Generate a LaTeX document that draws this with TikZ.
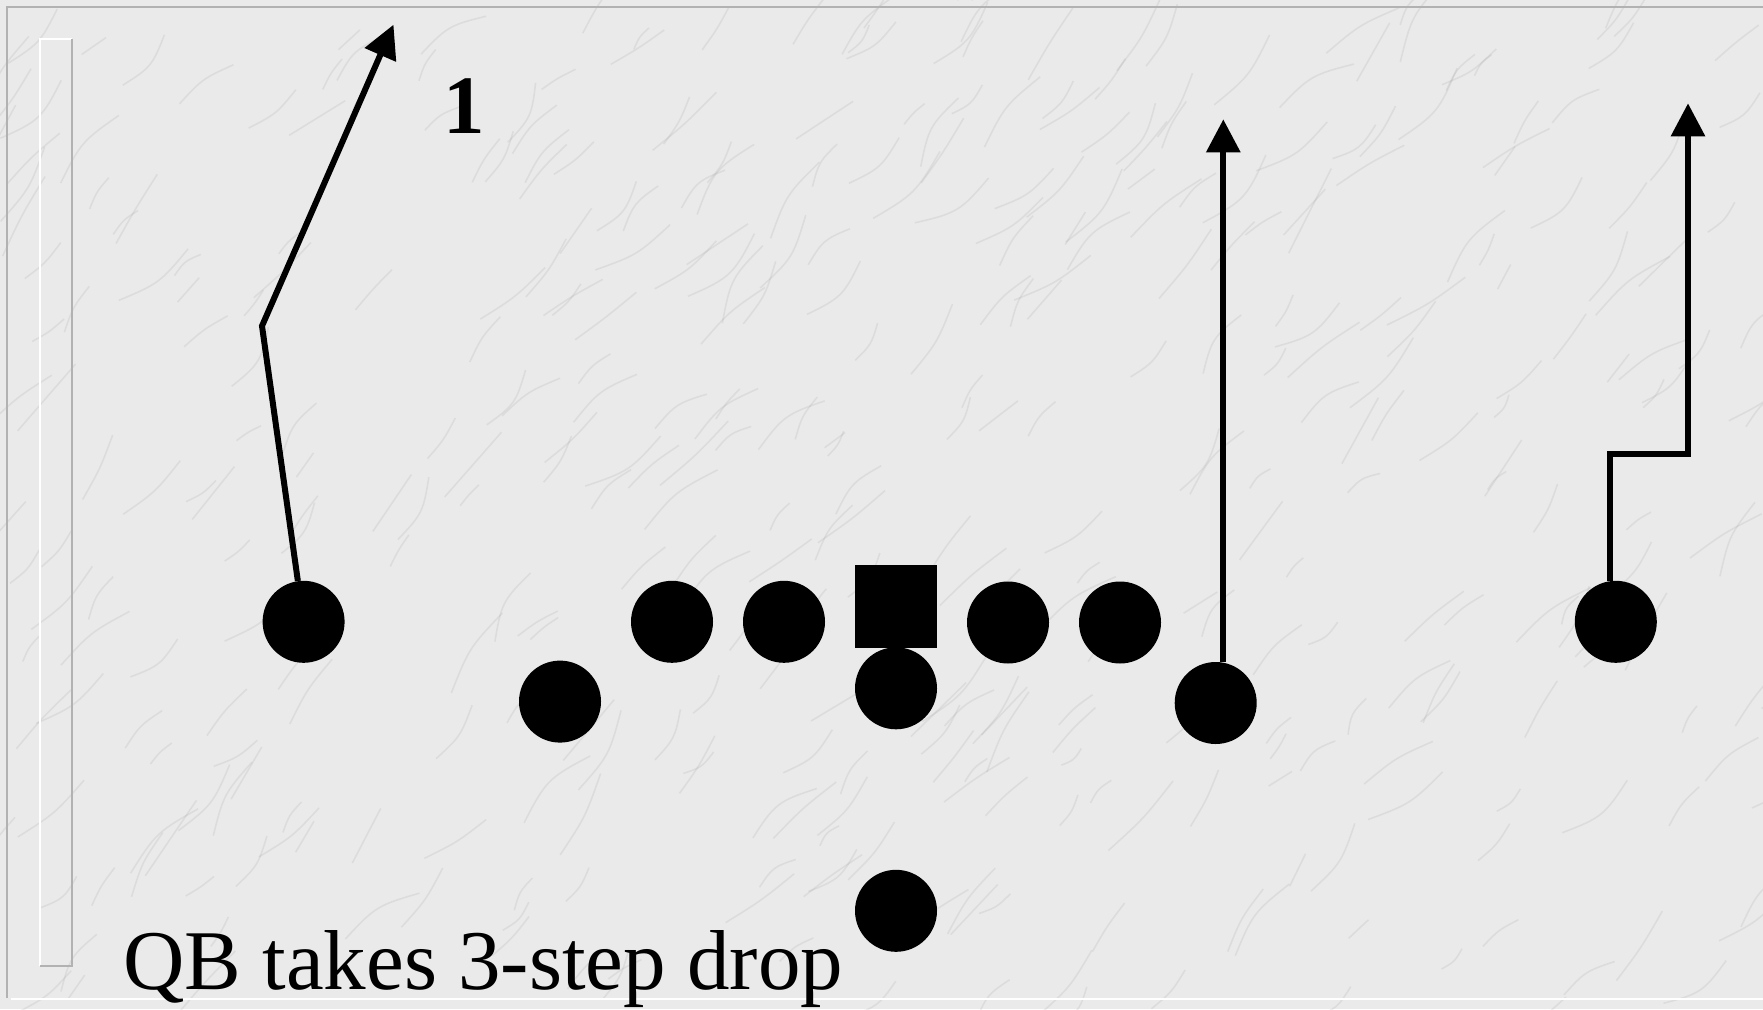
\documentclass[tikz,border=0pt]{standalone}
\usepackage{fontspec}
\setmainfont{Liberation Serif}
\usetikzlibrary{arrows.meta}
\definecolor{marble}{RGB}{234,234,234}
\definecolor{vein}{RGB}{140,140,140}
\definecolor{framegray}{RGB}{178,178,178}
\tikzset{
  player/.style={circle, fill=black, draw=none, minimum size=82pt, inner sep=0pt},
  centersq/.style={rectangle, fill=black, draw=none, minimum width=82pt, minimum height=83pt, inner sep=0pt},
  route/.style={line width=6pt, draw=black, line join=miter},
  routearrow/.style={route, -{Triangle[length=33pt,width=33pt]}},
}
\begin{document}
\begin{tikzpicture}[x=1pt,y=-1pt]
\useasboundingbox (0,0) rectangle (1763,1009);
% marble background
\fill[marble] (0,0) rectangle (1763,1009);
\pgfmathsetseed{7}
\begin{scope}
\clip (0,0) rectangle (1763,1009);
\foreach \i in {1,...,420}{
  \pgfmathsetmacro{\px}{rnd*1800-20}
  \pgfmathsetmacro{\py}{rnd*1050-20}
  \pgfmathsetmacro{\ang}{-(30+rnd*35)}
  \pgfmathsetmacro{\len}{25+rnd*70}
  \pgfmathsetmacro{\bend}{rnd*40-20}
  \draw[vein, opacity=0.14, line width=1.6pt]
    (\px,\py) .. controls +(\ang+\bend:\len/2) and +(\ang-\bend:-\len/2) .. +(\ang:\len);
}
\end{scope}
% slide frame
\draw[framegray, line width=2pt] (1763,7) -- (7,7) -- (7,998);
\draw[white, line width=2pt] (11,998.5) -- (1763,998.5);
% left bar
\draw[white, line width=2pt] (40,966) -- (40,39) -- (72,39);
\draw[framegray, line width=2pt] (72,39) -- (72,966) -- (40,966);
% players
\node[player] (lwr) at (303.6,621.8) {};
\node[player] (lt)  at (672,621.8) {};
\node[player] (lg)  at (784,621.8) {};
\node[centersq] (c) at (896,606.5) {};
\node[player] (rg)  at (1008,622.5) {};
\node[player] (rt)  at (1120,622.5) {};
\node[player] (lslot) at (560,701.6) {};
\node[player] (qb)  at (896,688.3) {};
\node[player] (rte) at (1215.7,703) {};
\node[player] (rwr) at (1615.8,621.8) {};
\node[player] (rb)  at (896,910.8) {};
% route points
\coordinate (b1) at (262,326);
\coordinate (t1) at (393.5,24.7);
\coordinate (t2) at (1223.3,119.3);
\coordinate (k1) at (1610,454);
\coordinate (k2) at (1688,454);
\coordinate (t3) at (1688,103.3);
% routes
\draw[routearrow] (lwr) -- (b1) -- (t1);
\draw[routearrow] (rte.north -| t2) -- (t2);
\draw[routearrow] (rwr.north -| k1) -- (k1) -- (k2) -- (t3);
% labels
\node[font=\fontsize{83}{90}\selectfont\bfseries, anchor=base, inner sep=0pt] (lbl) at (464,133) {1};
\node[font=\fontsize{85}{100}\selectfont, anchor=base west, inner sep=0pt] (cap) at (123,989) {QB takes 3-step drop};
\end{tikzpicture}
\end{document}
